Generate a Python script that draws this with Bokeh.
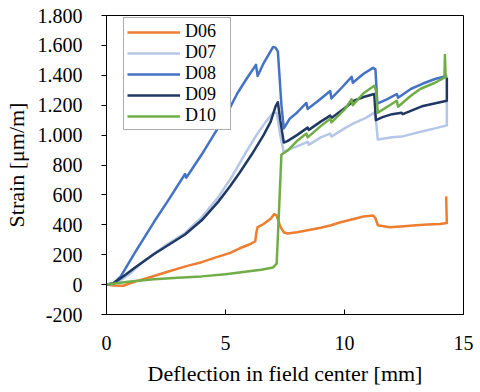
from bokeh.plotting import figure
from bokeh.models import FixedTicker, Range1d
from bokeh.embed import file_html
from bokeh.resources import INLINE

# ---- data ----
d06_x = [0, 0.3, 0.7, 1.2, 2.0, 2.6, 3.4, 4.0, 4.6, 5.2, 5.6, 6.0, 6.25, 6.3, 6.35, 6.6, 6.9, 7.05, 7.15, 7.3, 7.45, 7.6,
         8.0, 8.5, 9.0, 9.4, 9.8, 10.3, 10.8, 11.2, 11.3, 11.4, 11.9, 12.5, 13.0, 13.5, 14.0, 14.3, 14.27]
d06_y = [0, -6, -8, 20, 58, 88, 125, 150, 182, 212, 243, 268, 290, 350, 385, 405, 440, 472, 462, 390, 350, 342,
         350, 365, 380, 395, 415, 435, 455, 462, 445, 397, 383, 390, 397, 402, 406, 412, 590]

d07_x = [0, 0.4, 1.0, 1.6, 2.5, 3.3, 4.0, 4.7, 5.3, 5.8, 6.3, 6.7, 7.0, 7.15, 7.3, 7.45, 7.6, 8.0, 8.45, 8.5, 9.0, 9.4,
         9.45, 10.0, 10.4, 10.9, 11.25, 11.32, 11.4, 12.0, 12.4, 13.2, 13.8, 14.3, 14.3]
d07_y = [0, 8, 75, 160, 265, 345, 450, 585, 730, 870, 1000, 1090, 1150, 1150, 1000, 885, 900, 925, 955, 935, 985, 1010,
         990, 1045, 1080, 1115, 1150, 1100, 970, 985, 990, 1022, 1045, 1065, 1230]

d08_x = [0, 0.3, 0.6, 1.2, 2.0, 2.6, 3.3, 3.35, 4.0, 4.5, 5.0, 5.5, 5.9, 6.28, 6.35, 6.6, 7.0, 7.1, 7.2, 7.35, 7.45, 7.7,
         8.0, 8.4, 8.45, 8.9, 9.4, 9.45, 9.9, 10.3, 10.35, 10.8, 11.2, 11.3, 11.38, 11.8, 12.2, 12.25, 12.8, 13.3, 13.8, 14.3]
d08_y = [0, 8, 55, 215, 420, 565, 740, 715, 870, 1000, 1125, 1280, 1380, 1470, 1395, 1480, 1590, 1585, 1560, 1200, 1045, 1110,
         1150, 1215, 1175, 1230, 1295, 1245, 1320, 1390, 1350, 1410, 1450, 1440, 1210, 1240, 1275, 1250, 1310, 1345, 1375, 1395]

d09_x = [0, 0.3, 0.7, 1.2, 1.6, 2.0, 2.6, 3.3, 4.0, 4.7, 5.2, 5.6, 6.1, 6.6, 6.9, 7.1, 7.2, 7.3, 7.45, 7.6, 8.0, 8.45,
         8.5, 9.0, 9.4, 9.45, 10.0, 10.4, 10.8, 11.25, 11.32, 11.6, 12.0, 12.4, 12.45, 13.3, 14.3, 14.3]
d09_y = [0, 10, 55, 115, 160, 205, 265, 335, 430, 555, 660, 750, 870, 1000, 1090, 1190, 1220, 1100, 950, 960, 1000, 1050,
         1035, 1090, 1130, 1115, 1180, 1230, 1255, 1275, 1100, 1120, 1140, 1150, 1140, 1195, 1230, 1385]

d10_x = [0, 1.0, 2.0, 3.0, 4.0, 5.0, 5.5, 6.0, 6.5, 7.0, 7.15, 7.25, 7.35, 7.45, 7.6, 8.0, 8.4, 8.45, 9.0, 9.4, 9.45,
         10.0, 10.3, 10.35, 10.8, 11.25, 11.32, 11.4, 11.8, 12.2, 12.25, 12.8, 13.2, 13.8, 14.2, 14.22, 14.25, 14.3]
d10_y = [0, 20, 35, 45, 55, 70, 80, 90, 100, 115, 140, 500, 870, 880, 895, 960, 1010, 985, 1060, 1110, 1085,
         1170, 1240, 1200, 1280, 1330, 1300, 1150, 1190, 1230, 1190, 1265, 1310, 1350, 1385, 1535, 1390, 1400]

series_names = ["D06", "D07", "D08", "D09", "D10"]
series_colors = ["#ED7D31", "#B4C7E7", "#4472C4", "#203864", "#70AD47"]

x_ticks = [0, 5, 10, 15]
y_ticks = [-200, 0, 200, 400, 600, 800, 1000, 1200, 1400, 1600, 1800]
y_tick_labels = ["-200", "0", "200", "400", "600", "800", "1.000", "1.200", "1.400", "1.600", "1.800"]

FONT = "Liberation Serif"

p = figure(width=476, height=388, output_backend="svg", toolbar_location=None,
           x_range=Range1d(0, 15), y_range=Range1d(-200, 1800),
           min_border_left=105, min_border_right=13, min_border_top=15, min_border_bottom=69)
p.grid.visible = False
p.outline_line_color = "black"
p.outline_line_width = 1

xs = [d06_x, d07_x, d08_x, d09_x, d10_x]
ys = [d06_y, d07_y, d08_y, d09_y, d10_y]
for xv, yv, name, col in zip(xs, ys, series_names, series_colors):
    p.line(xv, yv, line_color=col, line_width=2.5, legend_label=name, line_join="round")

p.xaxis.ticker = FixedTicker(ticks=x_ticks)
p.yaxis.ticker = FixedTicker(ticks=y_ticks)
p.yaxis.major_label_overrides = {t: l for t, l in zip(y_ticks, y_tick_labels)}
p.xaxis.minor_tick_line_color = None
p.yaxis.minor_tick_line_color = None
p.xaxis.major_tick_in = 5
p.xaxis.major_tick_out = 0
p.yaxis.major_tick_in = 0
p.yaxis.major_tick_out = 5
for ax in (p.xaxis, p.yaxis):
    ax.axis_line_color = "black"
    ax.major_tick_line_color = "black"
    ax.major_label_text_font = FONT
    ax.major_label_text_font_size = "20px"
    ax.major_label_text_color = "black"
    ax.axis_label_text_font = FONT
    ax.axis_label_text_font_size = "22px"
    ax.axis_label_text_font_style = "normal"
    ax.axis_label_text_color = "black"
p.xaxis.major_label_standoff = 21
p.yaxis.major_label_standoff = 19
p.xaxis.axis_label = "Deflection in field center [mm]"
p.yaxis.axis_label = "Strain [\u03bcm/m]"
p.xaxis.axis_label_standoff = 8
p.yaxis.axis_label_standoff = 6

lg = p.legend[0]
lg.location = (17, 184)
lg.label_text_font = FONT
lg.label_text_font_size = "18px"
lg.label_text_color = "black"
lg.label_text_baseline = "middle"
lg.glyph_width = 53
lg.glyph_height = 18
lg.label_height = 18
lg.label_width = 42
lg.label_standoff = 5
lg.spacing = -5
lg.padding = 3
lg.margin = 0
lg.border_line_color = "#595959"
lg.border_line_width = 1
lg.background_fill_alpha = 1

open("out.html", "w").write(file_html(p, INLINE))
